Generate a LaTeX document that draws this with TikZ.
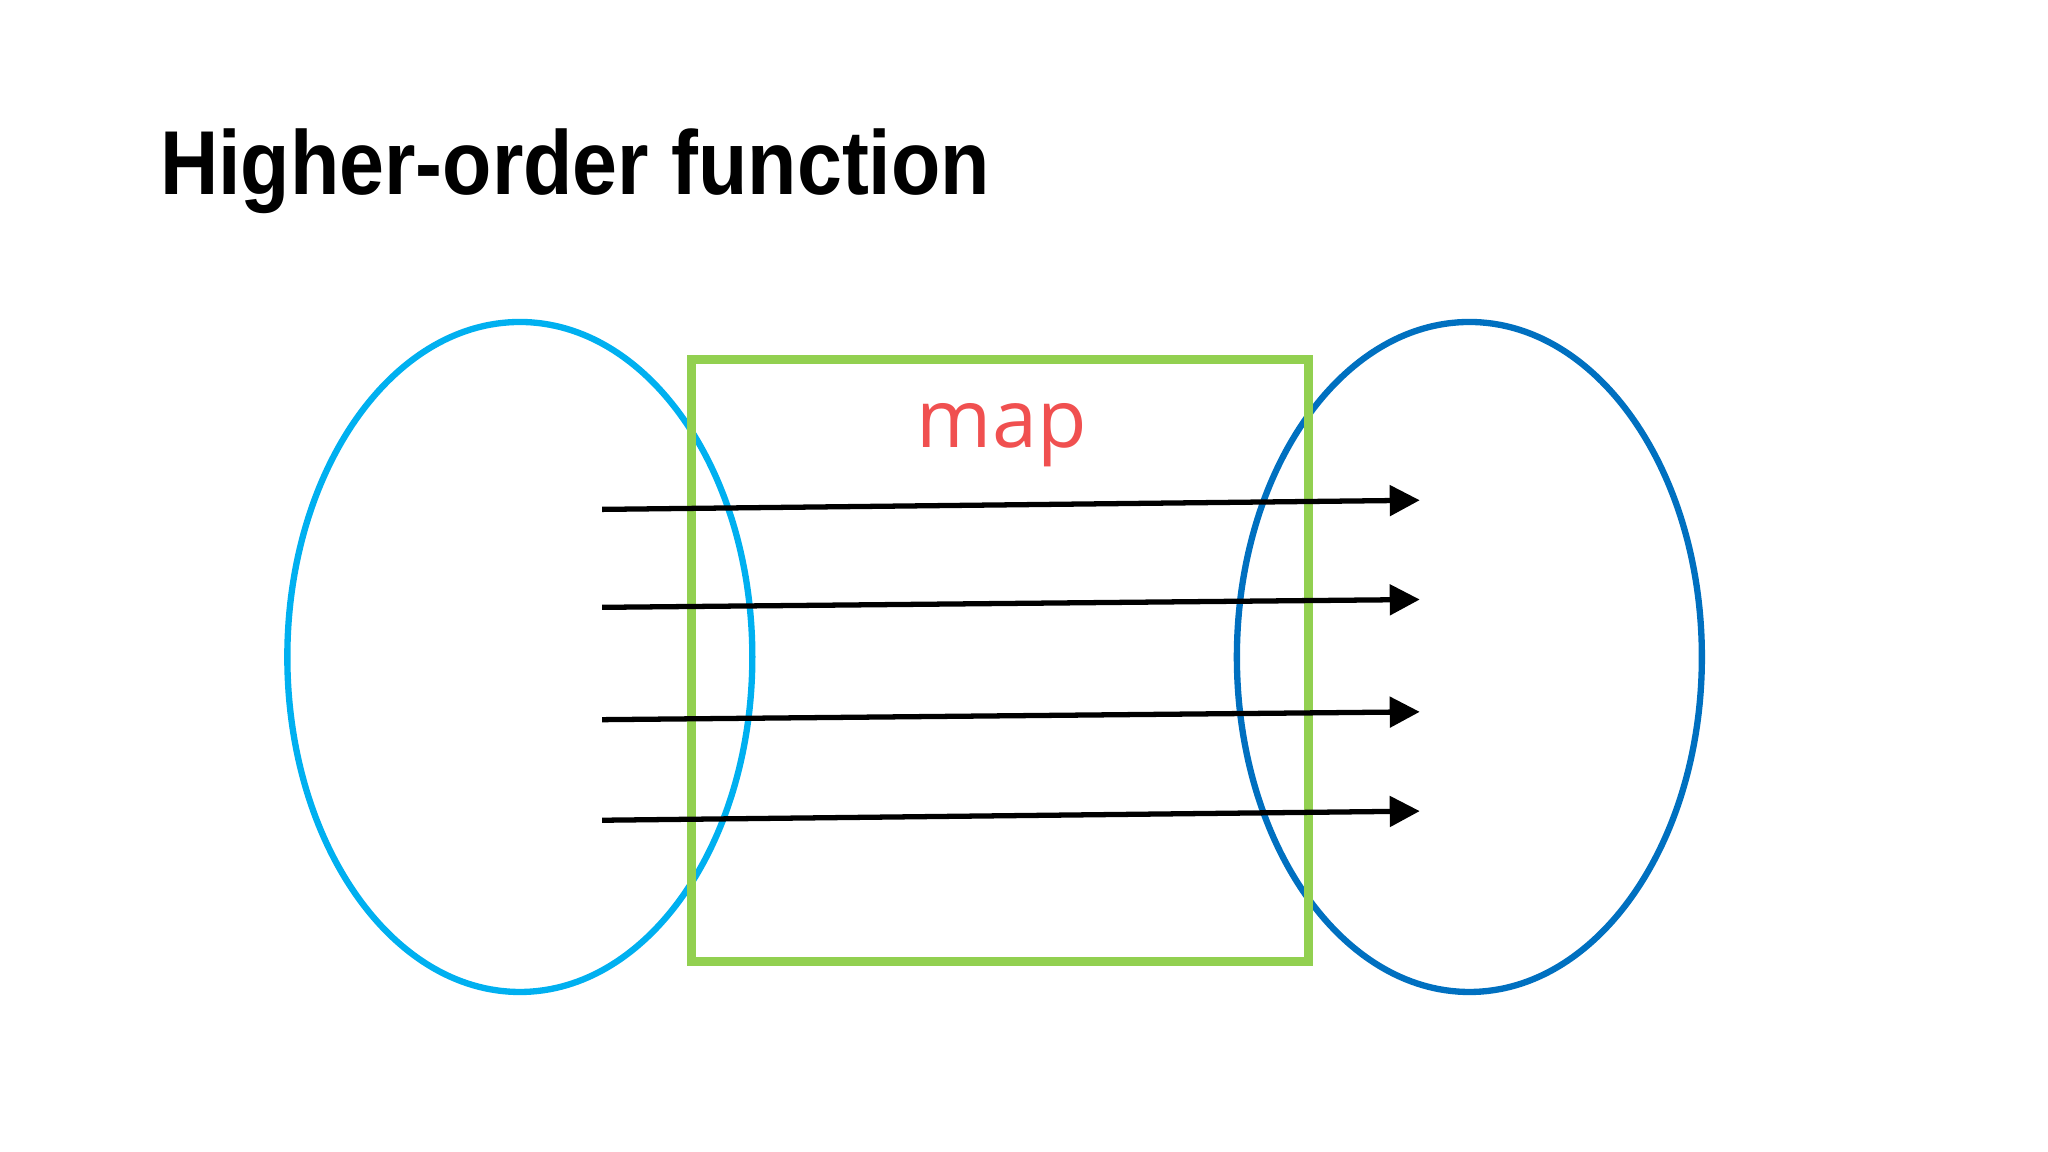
\documentclass[tikz,border=0pt]{standalone}
\usepackage{fontspec}
\setmainfont{Liberation Sans}
\newfontfamily\mapfont{Open Sans}
\usetikzlibrary{arrows.meta, positioning, shapes.geometric}
\definecolor{setin}{HTML}{00B0F0}
\definecolor{setout}{HTML}{0070C0}
\definecolor{mapbox}{HTML}{92D050}
\definecolor{maptext}{HTML}{F05050}
\tikzset{
  set/.style={draw, ellipse, line width=1.8pt, minimum width=4.65cm, minimum height=6.7cm, inner sep=0pt},
  maparrow/.style={-{Triangle[length=0.3cm, width=0.3cm]}, line width=1.5pt, black}
}
\begin{document}
\begin{tikzpicture}[x=0.01306cm, y=-0.01306cm]
\useasboundingbox (0,0) rectangle (1568,882);

\node[anchor=north west, inner sep=0pt] (title) at (122,98) {\resizebox*{8.3cm}{0.85cm}{\bfseries Higher-order function}};

\node[set, draw=setin] (domain) at (398,503) {};
\node[set, draw=setout] (codomain) at (1125,503) {};
\node[draw=mapbox, line width=2.6pt, minimum width=6.17cm, minimum height=6.02cm, inner sep=0pt] (box) at (765.5,506) {};
\node[text=maptext, font=\mapfont\fontsize{23}{28}\selectfont] (map) at (767,333) {map};

% arrows from domain to codomain
\foreach \ya/\yb [count=\i] in {390/383, 465/459, 551/545, 628/621} {
  \coordinate (src\i) at (461,\ya);
  \coordinate (dst\i) at (1087,\yb);
  \draw[maparrow] (src\i) -- (dst\i);
}

\end{tikzpicture}
\end{document}
